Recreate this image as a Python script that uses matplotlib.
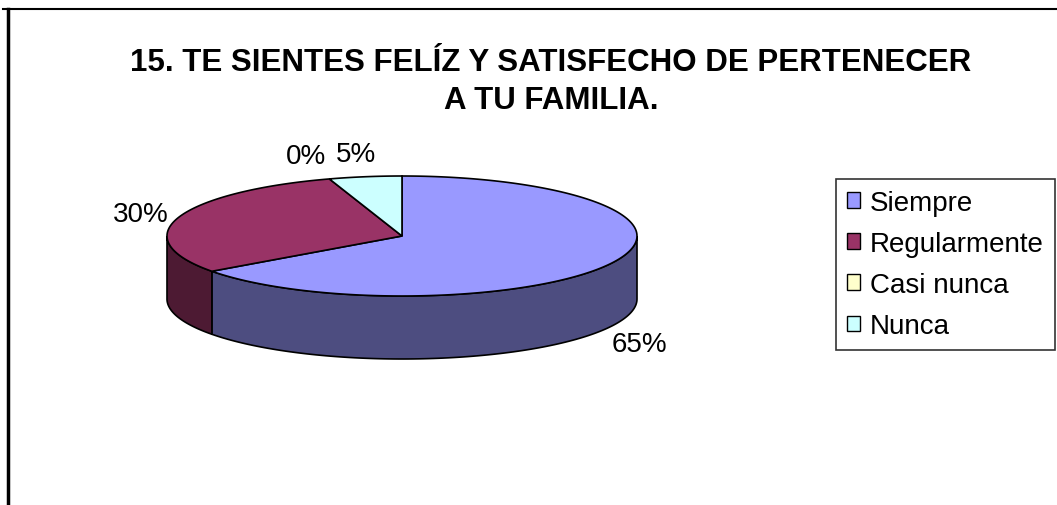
import numpy as np
from matplotlib import pyplot as plt
from matplotlib.patches import Polygon, Patch
from matplotlib.lines import Line2D

# chart data
title = "15. TE SIENTES FELÍZ Y SATISFECHO DE PERTENECER\nA TU FAMILIA."
categories = ["Siempre", "Regularmente", "Casi nunca", "Nunca"]
values = [65, 30, 0, 5]
labels = ["65%", "30%", "0%", "5%"]

top_colors = ["#9999FF", "#993366", "#FFFFCC", "#CCFFFF"]
side_colors = ["#4D4D80", "#4D1A33", "#808066", "#668080"]

# pie geometry in pixels
W, H = 1057, 506
cx, cy = 402, 237
rx, ry = 235, 60
depth = 63


def ell(theta, dz=0):
    # theta in degrees, clockwise from 12 o'clock
    t = np.radians(theta)
    return cx + rx * np.sin(t), cy - ry * np.cos(t) + dz


fig = plt.figure(figsize=(W / 100, H / 100), dpi=100)
ax = fig.add_axes([0, 0, 1, 1])
ax.set_xlim(0, W)
ax.set_ylim(H, 0)
ax.axis("off")

total = float(sum(values))
bounds = np.concatenate([[0], np.cumsum(values) / total * 360])

# side walls (visible front half: 90..270)
for i in range(len(values)):
    a0, a1 = bounds[i], bounds[i + 1]
    s0, s1 = max(a0, 90), min(a1, 270)
    if s1 <= s0:
        continue
    th = np.linspace(s0, s1, 120)
    xt, yt = ell(th)
    xb, yb = ell(th[::-1], depth)
    pts = np.column_stack([np.concatenate([xt, xb]), np.concatenate([yt, yb])])
    ax.add_patch(Polygon(pts, closed=True, facecolor=side_colors[i],
                         edgecolor="black", lw=1.2, zorder=2))

# top faces
for i in range(len(values)):
    a0, a1 = bounds[i], bounds[i + 1]
    if a1 - a0 <= 0:
        continue
    th = np.linspace(a0, a1, 200)
    xt, yt = ell(th)
    pts = np.column_stack([np.concatenate([[cx], xt]), np.concatenate([[cy], yt])])
    ax.add_patch(Polygon(pts, closed=True, facecolor=top_colors[i],
                         edgecolor="black", lw=1.2, zorder=3))

# percentage labels
for i in range(len(values)):
    mid = (bounds[i] + bounds[i + 1]) / 2
    s, c = np.sin(np.radians(mid)), np.cos(np.radians(mid))
    front = 90 <= mid <= 270
    if front:
        bx, by = ell(mid, depth)
        lx, ly, ha, va = bx + s * 32, by + 18, "center", "center"
    else:
        bx, by = ell(mid)
        lx, ly = bx + s * 10, by - c * 10
        ha = "center" if abs(s) < 0.2 else ("left" if s > 0 else "right")
        va = "center" if abs(c) < 0.5 else ("top" if c < 0 else "bottom")
        if ha == "center":
            lx -= 8
    ax.text(lx, ly, labels[i], ha=ha, va=va, fontsize=20,
            family="Liberation Sans", zorder=5)

# title
ax.text(551, 82, title, ha="center", va="center", fontsize=22.5,
        fontweight="bold", family="Liberation Sans", linespacing=1.33)

# legend
handles = [Patch(facecolor=c, edgecolor="black", lw=1) for c in top_colors]
leg = fig.legend(handles, categories, loc="upper left",
                 bbox_to_anchor=(836 / W, 1 - 180 / H),
                 prop={"family": "Liberation Sans", "size": 20},
                 frameon=True, fancybox=False, edgecolor="black",
                 handlelength=0.5, handleheight=0.5, handletextpad=0.35,
                 labelspacing=0.55, borderpad=0.38, borderaxespad=0)
leg.get_frame().set_linewidth(1.2)

# chart frame (top and left edges visible)
ax.add_line(Line2D([3, W], [10, 10], color="black", lw=1.5))
ax.add_line(Line2D([7.5, 7.5], [10, H], color="black", lw=2.5))

fig.savefig("out.png", dpi=100)
